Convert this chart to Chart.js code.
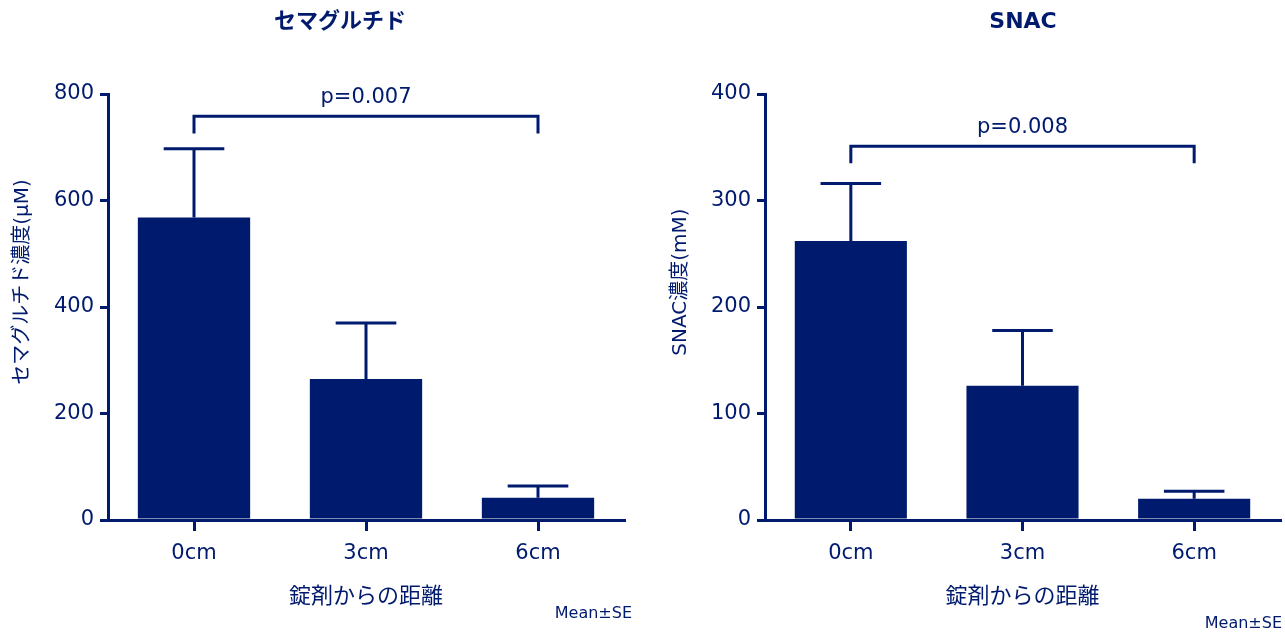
<!DOCTYPE html>
<html lang="ja">
<head>
<meta charset="UTF-8">
<title>セマグルチド / SNAC 濃度</title>
<script src="https://cdn.jsdelivr.net/npm/chart.js"></script>
<style>
  html, body { margin: 0; padding: 0; background: #fff; }
  body { width: 1285px; height: 632px; position: relative; overflow: hidden; }
  canvas { position: absolute; top: 0; }
  #semaChart { left: 0; }
  #snacChart { left: 640px; }
</style>
</head>
<body>
<canvas id="semaChart" width="640" height="632"></canvas>
<canvas id="snacChart" width="645" height="632"></canvas>
<script>
// data (mean, upper SE)
const distances = ['0cm', '3cm', '6cm'];

const semaMean = [568, 265, 42];
const semaSE = [129, 105, 22];
const semaTicks = [0, 200, 400, 600, 800];
const semaBracket = [726, 758];   // leg bottom, bar top (axis units)

const snacMean = [262, 126, 20];
const snacSE = [54, 52, 7];
const snacTicks = [0, 100, 200, 300, 400];
const snacBracket = [335, 351];

const NAVY = '#001a6e';
const FONT = '"DejaVu Sans", "Noto Sans CJK JP", sans-serif';

function extrasPlugin(c) {
    return {
        id: 'extras',
        afterDatasetsDraw(chart) {
            const ctx = chart.ctx;
            const x = chart.scales.x, y = chart.scales.y;
            const meta = chart.getDatasetMeta(0);
            ctx.save();
            ctx.strokeStyle = NAVY;
            ctx.lineWidth = 3;
            ctx.lineCap = 'butt';
            // error bars (upper only)
            c.se.forEach((e, i) => {
                const bar = meta.data[i];
                const top = y.getPixelForValue(c.mean[i] + e);
                const half = bar.width * 0.27;
                ctx.beginPath();
                ctx.moveTo(bar.x, bar.y);
                ctx.lineTo(bar.x, top);
                ctx.moveTo(bar.x - half, top);
                ctx.lineTo(bar.x + half, top);
                ctx.stroke();
            });
            // significance bracket 0cm vs 6cm
            const x1 = x.getPixelForValue(0), x2 = x.getPixelForValue(2);
            const yb = y.getPixelForValue(c.bracket[1]), yl = y.getPixelForValue(c.bracket[0]);
            ctx.lineJoin = 'miter';
            ctx.beginPath();
            ctx.moveTo(x1, yl);
            ctx.lineTo(x1, yb);
            ctx.lineTo(x2, yb);
            ctx.lineTo(x2, yl);
            ctx.stroke();
            ctx.fillStyle = NAVY;
            ctx.font = '21px ' + FONT;
            ctx.textAlign = 'center';
            ctx.textBaseline = 'alphabetic';
            ctx.fillText(c.pText, x.getPixelForValue(1), yb - 13);
            ctx.restore();
        },
        afterDraw(chart) {
            const ctx = chart.ctx;
            const x = chart.scales.x;
            ctx.save();
            ctx.fillStyle = NAVY;
            ctx.textBaseline = 'middle';
            ctx.textAlign = 'center';
            ctx.font = 'bold 22px ' + FONT;
            ctx.fillText(c.title, c.titleX, 22);
            ctx.font = '22px ' + FONT;
            ctx.fillText('錠剤からの距離', x.getPixelForValue(1), 597);
            ctx.save();
            ctx.translate(c.yTitleX, 282);
            ctx.rotate(-Math.PI / 2);
            ctx.font = '20px ' + FONT;
            ctx.fillText(c.yTitle, 0, 0);
            ctx.restore();
            ctx.textAlign = 'right';
            ctx.font = '16px ' + FONT;
            ctx.fillText('Mean±SE', chart.width - c.noteRight, c.noteY);
            ctx.restore();
        }
    };
}

function makeChart(id, c) {
    const ctx = document.getElementById(id).getContext('2d');
    return new Chart(ctx, {
        type: 'bar',
        data: {
            labels: distances,
            datasets: [{
                data: c.mean,
                backgroundColor: NAVY,
                borderWidth: 0,
                categoryPercentage: 1,
                barPercentage: 0.653
            }]
        },
        options: {
            responsive: false,
            animation: false,
            devicePixelRatio: 1,
            layout: { padding: { top: 94, right: c.padRight, bottom: 0, left: 0 } },
            plugins: {
                legend: { display: false },
                tooltip: { enabled: false }
            },
            scales: {
                x: {
                    afterFit: s => { s.height = 112; },
                    grid: { display: true, offset: false, drawOnChartArea: false, tickLength: 11, color: NAVY, lineWidth: 3 },
                    border: { display: true, color: NAVY, width: 3 },
                    ticks: { color: NAVY, font: { family: FONT, size: 21 }, padding: 10 }
                },
                y: {
                    min: c.ticks[0],
                    max: c.ticks[c.ticks.length - 1],
                    afterFit: s => { s.width = c.axisLeft; },
                    afterBuildTicks: s => { s.ticks = c.ticks.map(v => ({ value: v })); },
                    grid: { display: true, drawOnChartArea: false, tickLength: 8, color: NAVY, lineWidth: 3 },
                    border: { display: true, color: NAVY, width: 3 },
                    ticks: { color: NAVY, font: { family: FONT, size: 21 }, padding: 6 }
                }
            }
        },
        plugins: [extrasPlugin(c)]
    });
}

makeChart('semaChart', {
    mean: semaMean, se: semaSE, ticks: semaTicks, bracket: semaBracket,
    title: 'セマグルチド', titleX: 340, pText: 'p=0.007',
    yTitle: 'セマグルチド濃度(μM)', yTitleX: 23,
    axisLeft: 108, padRight: 16, noteRight: 8, noteY: 614
});

makeChart('snacChart', {
    mean: snacMean, se: snacSE, ticks: snacTicks, bracket: snacBracket,
    title: 'SNAC', titleX: 383, pText: 'p=0.008',
    yTitle: 'SNAC濃度(mM)', yTitleX: 41,
    axisLeft: 125, padRight: 5, noteRight: 3, noteY: 624
});
</script>
</body>
</html>
